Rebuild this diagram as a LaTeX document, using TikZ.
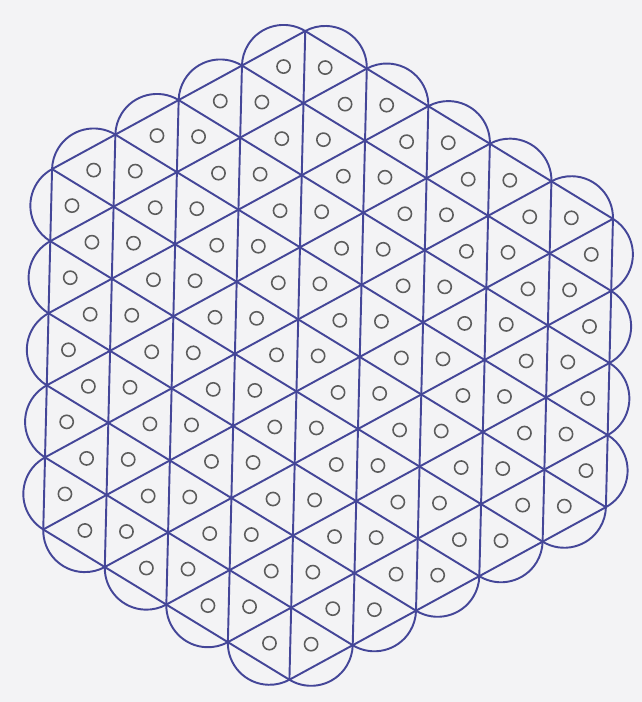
\documentclass[tikz,border=0pt]{standalone}
\usepackage{tikz}

\definecolor{ink}{RGB}{68,70,152}
\definecolor{pencil}{RGB}{92,92,92}
\definecolor{paper}{RGB}{243,243,245}

\tikzset{
  latline/.style={draw=ink, line width=0.55pt, line cap=round},
  scallop/.style={draw=ink, line width=0.55pt, radius=0.4163cm},
  ring/.style={draw=pencil, line width=0.45pt},
}

\begin{document}
\begin{tikzpicture}
\fill[paper] (0,0) rectangle (6.42,7.02);
\useasboundingbox (0,0) rectangle (6.42,7.02);

% lattice: a runs down-right, b runs down; hexagon -4<=a<=5, 0<=b<=9, 0<=a+b<=9
\begin{scope}[shift={(3.0525cm,6.7095cm)}, rotate=-1.4,
              x={(0.6244cm,-0.3605cm)}, y={(0cm,-0.721cm)}]

% vertical lines
\foreach \k in {-4,...,5}{
  \pgfmathtruncatemacro\lo{max(0,-(\k))}
  \pgfmathtruncatemacro\hi{min(9,9-(\k))}
  \draw[latline] (\k,\lo) -- (\k,\hi);
}
% lines going down-right
\foreach \k in {0,...,9}{
  \pgfmathtruncatemacro\lo{max(-4,-(\k))}
  \pgfmathtruncatemacro\hi{min(5,9-(\k))}
  \draw[latline] (\lo,\k) -- (\hi,\k);
}
% lines going up-right
\foreach \k in {0,...,9}{
  \pgfmathtruncatemacro\lo{max(-4,\k-9)}
  \pgfmathtruncatemacro\hi{min(5,\k)}
  \pgfmathtruncatemacro\blo{\k-(\lo)}
  \pgfmathtruncatemacro\bhi{\k-(\hi)}
  \draw[latline] (\lo,\blo) -- (\hi,\bhi);
}

% one ring in every triangle
\foreach \a in {-4,...,4}{
  \pgfmathtruncatemacro\lo{max(0,-(\a))}
  \pgfmathtruncatemacro\hi{min(8,8-(\a))}
  \foreach \b in {\lo,...,\hi}
    \draw[ring] (\a+1/3,\b+1/3) circle[radius=0.066cm];
  \pgfmathtruncatemacro\lo{max(0,-1-(\a))}
  \pgfmathtruncatemacro\hi{min(8,7-(\a))}
  \foreach \b in {\lo,...,\hi}
    \draw[ring] (\a+2/3,\b+2/3) circle[radius=0.066cm];
}

% scallops round the rim
\foreach \k in {0,...,4}
  \draw[scallop] (\k+1,0) arc[start angle=0, end angle=120];
\foreach \k in {0,...,3}
  \draw[scallop] (5,\k+1) arc[start angle=-60, end angle=60];
\foreach \k in {0,...,4}
  \draw[scallop] (4-\k,5+\k) arc[start angle=-120, end angle=0];
\foreach \k in {-4,...,-1}
  \draw[scallop] (\k,9) arc[start angle=180, end angle=300];
\foreach \k in {4,...,8}
  \draw[scallop] (-4,\k) arc[start angle=120, end angle=240];
\foreach \k in {-4,...,-1}{
  \pgfmathtruncatemacro\ka{\k+1}
  \pgfmathtruncatemacro\kb{-1-(\k)}
  \draw[scallop] (\ka,\kb) arc[start angle=60, end angle=180];
}
\end{scope}
\end{tikzpicture}
\end{document}
